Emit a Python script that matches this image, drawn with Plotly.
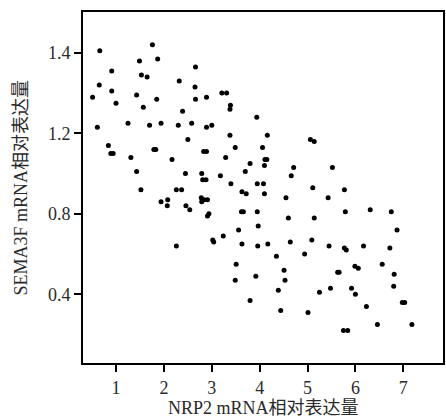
import plotly.graph_objects as go

# NRP2 mRNA relative expression (x) and SEMA3F mRNA relative expression (y, axis units)
nrp2 = [0.66, 1.76, 1.49, 1.87, 0.91, 2.66, 1.53, 1.65, 2.32, 0.65,
        0.91, 2.65, 0.51, 1.43, 1.85, 2.66, 2.89, 1.00, 1.57, 2.39,
        1.25, 1.70, 1.94, 2.30, 2.58, 0.61, 2.89, 3.21, 3.31, 3.39,
        3.38, 3.94, 3.00, 0.84, 0.89, 0.94, 1.31, 1.79, 1.83, 2.50,
        2.17, 2.83, 2.89, 1.43, 2.45, 2.79, 2.81, 2.88, 1.52, 2.26,
        2.37, 1.94, 2.08, 2.07, 2.46, 2.54, 2.78, 2.84, 2.91, 2.79,
        2.91, 2.94, 2.26, 3.38, 4.16, 5.06, 5.14, 3.49, 4.06, 3.29,
        4.11, 4.15, 3.80, 4.10, 4.71, 3.70, 4.66, 3.18, 3.40, 3.95,
        4.08, 3.63, 3.72, 4.10, 5.11, 4.55, 5.43, 3.62, 3.66, 3.95,
        4.60, 5.14, 3.97, 3.56, 3.24, 3.02, 3.04, 3.63, 3.96, 4.17,
        4.64, 5.09, 5.52, 5.77, 5.79, 6.31, 6.75, 6.87, 5.45, 5.77,
        5.81, 6.17, 6.72, 4.35, 4.94, 3.51, 4.51, 3.49, 3.92, 4.53,
        4.39, 5.25, 3.80, 4.44, 5.01, 6.56, 5.99, 6.06, 5.63, 5.66,
        6.81, 5.48, 5.92, 6.00, 6.80, 6.98, 7.03, 6.23, 6.46, 7.18,
        5.75, 5.84]
sema3f = [1.61, 1.64, 1.56, 1.57, 1.51, 1.53, 1.49, 1.48, 1.46, 1.44,
          1.41, 1.43, 1.38, 1.39, 1.37, 1.37, 1.38, 1.35, 1.33, 1.31,
          1.25, 1.24, 1.25, 1.24, 1.25, 1.23, 1.23, 1.40, 1.40, 1.34,
          1.32, 1.28, 1.24, 1.14, 1.10, 1.10, 1.08, 1.12, 1.12, 1.17,
          1.07, 1.11, 1.11, 1.01, 1.00, 1.00, 0.97, 0.97, 0.92, 0.92,
          0.92, 0.86, 0.87, 0.84, 0.84, 0.82, 0.88, 0.87, 0.87, 0.86,
          0.79, 0.80, 0.64, 1.19, 1.19, 1.17, 1.16, 1.13, 1.13, 1.08,
          1.07, 1.07, 1.05, 1.04, 1.03, 1.01, 0.99, 0.99, 0.95, 0.95,
          0.95, 0.91, 0.90, 0.90, 0.93, 0.88, 0.88, 0.81, 0.81, 0.81,
          0.78, 0.78, 0.74, 0.72, 0.69, 0.67, 0.66, 0.65, 0.64, 0.65,
          0.66, 0.67, 1.03, 0.92, 0.81, 0.82, 0.81, 0.72, 0.64, 0.63,
          0.62, 0.64, 0.63, 0.59, 0.60, 0.55, 0.52, 0.47, 0.49, 0.47,
          0.42, 0.41, 0.37, 0.32, 0.31, 0.55, 0.54, 0.53, 0.51, 0.51,
          0.50, 0.43, 0.43, 0.40, 0.44, 0.36, 0.36, 0.34, 0.25, 0.25,
          0.22, 0.22]

x_ticks = [1, 2, 3, 4, 5, 6, 7]
x_tick_labels = ["1", "2", "3", "4", "5", "6", "7"]
y_ticks = [0.4, 0.8, 1.2, 1.6]
y_tick_labels = ["0.4", "0.8", "1.2", "1.4"]

x_title = "NRP2 mRNA相对表达量"
y_title = "SEMA3F mRNA相对表达量"

FONT = "Liberation Serif, Times New Roman, Noto Sans CJK SC, serif"
TXT = "#2a2a2a"
FS = 18

fig = go.Figure(
    go.Scatter(
        x=nrp2, y=sema3f, mode="markers",
        marker=dict(color="black", size=5, line=dict(width=0)),
        showlegend=False, hoverinfo="skip",
    )
)

fig.update_layout(
    width=446, height=420,
    margin=dict(l=83, r=1, t=12, b=57),
    paper_bgcolor="white", plot_bgcolor="white",
    font=dict(family=FONT, size=FS, color=TXT),
)

fig.update_xaxes(
    range=[0.31, 7.83],
    tickvals=x_ticks, ticktext=x_tick_labels,
    showgrid=False, zeroline=False,
    showline=True, linecolor="black", linewidth=2, mirror=True,
    ticks="outside", ticklen=7, tickwidth=1.5, tickcolor="black",
    tickfont=dict(family=FONT, size=FS, color=TXT),
)
fig.update_yaxes(
    range=[0.059, 1.803],
    tickvals=y_ticks, ticktext=y_tick_labels,
    showgrid=False, zeroline=False,
    showline=True, linecolor="black", linewidth=2, mirror=True,
    ticks="outside", ticklen=7, tickwidth=1.5, tickcolor="black",
    tickfont=dict(family=FONT, size=FS, color=TXT),
)

fig.add_annotation(
    text=x_title, xref="paper", yref="paper", x=0.5, y=0,
    xanchor="center", yanchor="middle", yshift=-45, showarrow=False,
    font=dict(family=FONT, size=FS, color=TXT),
)
fig.add_annotation(
    text=y_title, xref="paper", yref="paper", x=0, y=0.5,
    xanchor="center", yanchor="middle", xshift=-63, textangle=-90,
    showarrow=False, font=dict(family=FONT, size=FS, color=TXT),
)

fig.write_html(
    "out.html",
    config={"displayModeBar": False},
    post_script="document.body.style.margin='0';document.body.style.overflow='hidden';",
)
